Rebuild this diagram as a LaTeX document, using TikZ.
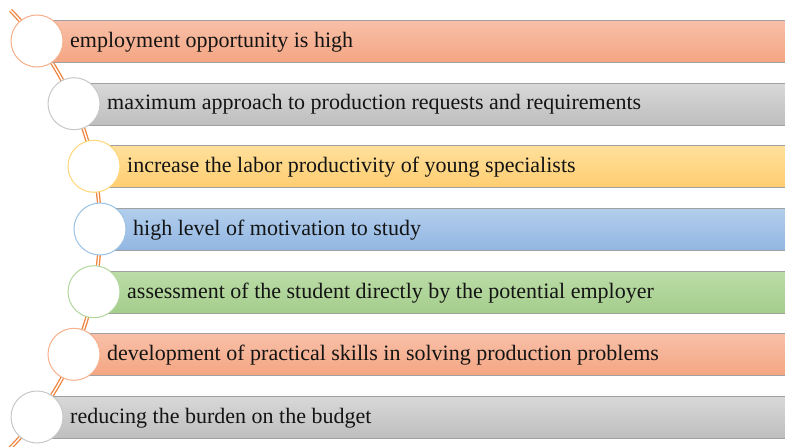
\documentclass[tikz,border=0pt]{standalone}
\usepackage{fontspec}
\setmainfont{Liberation Serif}
\definecolor{oT}{RGB}{248,192,168}
\definecolor{oB}{RGB}{244,165,130}
\definecolor{gT}{RGB}{216,216,216}
\definecolor{gB}{RGB}{190,190,190}
\definecolor{yT}{RGB}{255,224,155}
\definecolor{yB}{RGB}{255,205,112}
\definecolor{bT}{RGB}{178,206,236}
\definecolor{bB}{RGB}{146,182,226}
\definecolor{grT}{RGB}{188,220,168}
\definecolor{grB}{RGB}{164,206,140}
\definecolor{oC}{RGB}{246,176,140}
\definecolor{gC}{RGB}{200,200,200}
\definecolor{yC}{RGB}{255,214,120}
\definecolor{bC}{RGB}{156,194,230}
\definecolor{grC}{RGB}{178,214,156}
\definecolor{arcC}{RGB}{238,130,60}
\definecolor{edge}{RGB}{160,160,160}
\begin{document}
\begin{tikzpicture}[x=1pt,y=-1pt,
  bar/.style={draw=edge, line width=0.8pt, anchor=west, minimum height=42pt, inner sep=0pt, rectangle},
  dot/.style={circle, fill=white, line width=1pt, minimum size=52pt, inner sep=0pt},
  lbl/.style={anchor=west, inner sep=0pt, font=\fontsize{22}{24}\selectfont, text=black!92}]
\useasboundingbox (0,0) rectangle (785,447);
\begin{scope}
\clip (0,0) rectangle (785,447);
\draw[arcC, line width=1.3pt, double=white, double distance=1.4pt] (-212,229) ++(-44.5:312) arc (-44.5:47:312);
\end{scope}
% bars
\node[bar, top color=oT, bottom color=oB, minimum width=748pt] (b1) at (37,41.5) {};
\node[bar, top color=gT, bottom color=gB, minimum width=711pt] (b2) at (74,104.2) {};
\node[bar, top color=yT, bottom color=yB, minimum width=691pt] (b3) at (94,166.8) {};
\node[bar, top color=bT, bottom color=bB, minimum width=685pt] (b4) at (100,229.5) {};
\node[bar, top color=grT, bottom color=grB, minimum width=691pt] (b5) at (94,292.2) {};
\node[bar, top color=oT, bottom color=oB, minimum width=711pt] (b6) at (74,354.8) {};
\node[bar, top color=gT, bottom color=gB, minimum width=748pt] (b7) at (37,417.5) {};
% circles
\node[dot, draw=oC] (c1) at (37,41) {};
\node[dot, draw=gC] (c2) at (74,103.7) {};
\node[dot, draw=yC] (c3) at (94,166.3) {};
\node[dot, draw=bC] (c4) at (100,229) {};
\node[dot, draw=grC] (c5) at (94,291.7) {};
\node[dot, draw=oC] (c6) at (74,354.3) {};
\node[dot, draw=gC] (c7) at (37,417) {};
% labels
\node[lbl] (t1) at (70,42) {employment opportunity is high};
\node[lbl] (t2) at (107,104.7) {maximum approach to production requests and requirements};
\node[lbl] (t3) at (127,167.3) {increase the labor productivity of young specialists};
\node[lbl] (t4) at (133,230) {high level of motivation to study};
\node[lbl] (t5) at (127,292.7) {assessment of the student directly by the potential employer};
\node[lbl] (t6) at (107,355.3) {development of practical skills in solving production problems};
\node[lbl] (t7) at (70,418) {reducing the burden on the budget};
\end{tikzpicture}
\end{document}
